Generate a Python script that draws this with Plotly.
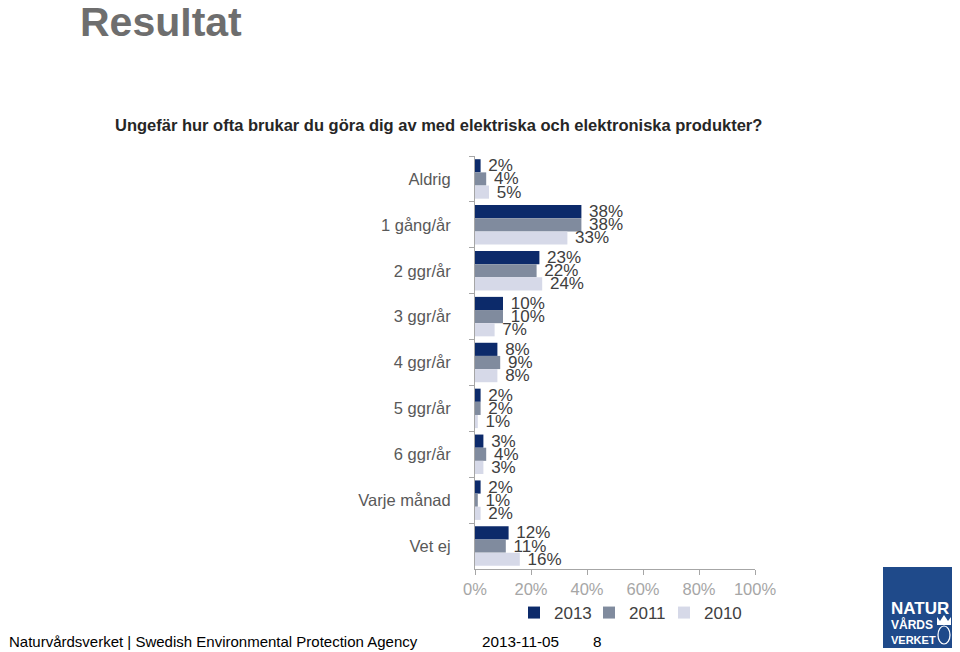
import plotly.graph_objects as go

categories = ["Aldrig", "1 gång/år", "2 ggr/år", "3 ggr/år", "4 ggr/år",
              "5 ggr/år", "6 ggr/år", "Varje månad", "Vet ej"]
series_names = ["2013", "2011", "2010"]
v2013 = [2, 38, 23, 10, 8, 2, 3, 2, 12]
v2011 = [4, 38, 22, 10, 9, 2, 4, 1, 11]
v2010 = [5, 33, 24, 7, 8, 1, 3, 2, 16]
colors = ["#0c2a6a", "#808b9e", "#d6d9e8"]
legend_widths = [30, 30, 40]
x_ticks = [0, 20, 40, 60, 80, 100]

# page has an 8px body margin; design in reference pixel coordinates
OFF = 8
W, H = 960 - OFF, 652 - OFF
L, R, T, B = 475, 755, 156, 569  # plot area in reference pixels


def px(x):
    return (x - L) / (R - L)


def py(y):
    return (B - y) / (B - T)


FONT = "Arial, Liberation Sans, sans-serif"

fig = go.Figure()
for name, vals, col, lw in zip(series_names, [v2013, v2011, v2010], colors, legend_widths):
    fig.add_trace(go.Bar(
        y=categories, x=vals, name=name, orientation="h",
        marker=dict(color=col, line=dict(width=0)),
        text=[f"\u00a0{v}%" for v in vals], textposition="outside",
        textfont=dict(family=FONT, size=17, color="#404040"),
        constraintext="none", cliponaxis=False, legendwidth=lw,
    ))

fig.update_layout(
    width=W, height=H,
    margin=dict(l=L - OFF, r=W - (R - OFF), t=T - OFF, b=H - (B - OFF), pad=0),
    paper_bgcolor="white", plot_bgcolor="white",
    barmode="group", bargap=0.14, bargroupgap=0,
    font=dict(family=FONT, size=16, color="#595959"),
    showlegend=True,
    legend=dict(orientation="h", x=px(514), xanchor="left", y=py(595), yanchor="top",
                font=dict(size=17, color="#404040"), traceorder="normal",
                itemwidth=30, tracegroupgap=0, entrywidthmode="pixels"),
    xaxis=dict(range=[0, 100], tickvals=x_ticks, ticktext=[f"{t}%" for t in x_ticks],
               showgrid=False, zeroline=False, showline=True, linecolor="#a6a6a6",
               linewidth=1, ticks="outside", ticklen=5, tickcolor="#a6a6a6",
               tickfont=dict(size=16.5, color="#a6a6a6")),
    yaxis=dict(categoryorder="array", categoryarray=categories, autorange="reversed",
               showgrid=False, zeroline=False, showline=True, linecolor="#a6a6a6",
               linewidth=1, ticks="outside", ticklen=5, tickcolor="#a6a6a6",
               tickson="boundaries", ticklabelstandoff=20,
               tickfont=dict(size=16.5, color="#595959")),
)

annotations = [
    dict(text="<b>Resultat</b>", x=px(78), y=py(22), xanchor="left", yanchor="middle",
         font=dict(size=41, color="#6e6e6e")),
    dict(text="<b>Ungefär hur ofta brukar du göra dig av med elektriska och elektroniska produkter?</b>",
         x=px(113), y=py(125), xanchor="left", yanchor="middle",
         font=dict(size=16.5, color="#262626")),
    dict(text="Naturvårdsverket | Swedish Environmental Protection Agency",
         x=px(7), y=py(641), xanchor="left", yanchor="middle",
         font=dict(size=15, color="#000000")),
    dict(text="2013-11-05", x=px(480), y=py(641), xanchor="left", yanchor="middle",
         font=dict(size=15.3, color="#000000")),
    dict(text="8", x=px(591), y=py(641), xanchor="left", yanchor="middle",
         font=dict(size=15.3, color="#000000")),
    dict(text="<b>NATUR</b>", x=px(889), y=py(608), xanchor="left", yanchor="middle",
         font=dict(size=17, color="white")),
    dict(text="<b>VÅRDS</b>", x=px(889), y=py(624), xanchor="left", yanchor="middle",
         font=dict(size=12, color="white")),
    dict(text="<b>VERKET</b>", x=px(889), y=py(640), xanchor="left", yanchor="middle",
         font=dict(size=11, color="white")),
]
for a in annotations:
    a.update(xref="paper", yref="paper", showarrow=False)
fig.update_layout(annotations=annotations)

fig.add_shape(type="rect", xref="paper", yref="paper",
              x0=px(883), x1=px(955), y0=py(648), y1=py(567),
              fillcolor="#1f4a8a", line=dict(width=0), layer="below")
# small emblem in the logo
fig.add_shape(type="circle", xref="paper", yref="paper",
              x0=px(938), x1=px(950), y0=py(644), y1=py(626),
              fillcolor="rgba(0,0,0,0)", line=dict(color="white", width=1.2), layer="above")
fig.add_shape(type="path", xref="paper", yref="paper",
              path=(f"M {px(937)} {py(625)} L {px(937)} {py(617)} L {px(940)} {py(621)} "
                    f"L {px(944)} {py(615)} L {px(948)} {py(621)} L {px(951)} {py(617)} "
                    f"L {px(951)} {py(625)} Z"),
              fillcolor="white", line=dict(width=0), layer="above")

fig.write_html("out.html")
